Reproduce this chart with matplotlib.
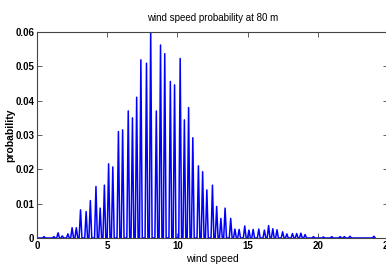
import numpy as np
import matplotlib
matplotlib.use('Agg')
import matplotlib.pyplot as plt

# wind speed bins (m/s), 0.1 wide; most bins are empty
speed = np.round(np.arange(0, 24.15, 0.1), 1)

# bins that hold observations and their probability
peak_speed = [0.5, 1.2, 1.5, 1.8, 2.2, 2.5, 2.8, 3.1, 3.5, 3.8,
              4.2, 4.5, 4.8, 5.1, 5.4, 5.8, 6.1, 6.5, 6.8, 7.1,
              7.4, 7.8, 8.1, 8.5, 8.8, 9.1, 9.5, 9.8, 10.2, 10.5,
              10.8, 11.1, 11.5, 11.8, 12.1, 12.5, 12.8, 13.1, 13.4, 13.8,
              14.1, 14.4, 14.8, 15.1, 15.4, 15.8, 16.2, 16.5, 16.8, 17.1,
              17.5, 17.8, 18.2, 18.5, 18.8, 19.1, 19.7, 20.4, 21.0, 21.6,
              21.9, 22.3, 24.0]
peak_prob = [0.0004, 0.0004, 0.0015, 0.0006, 0.0012, 0.0030, 0.0030, 0.0082, 0.0077, 0.0109,
             0.0150, 0.0087, 0.0154, 0.0216, 0.0207, 0.0310, 0.0315, 0.0370, 0.0350, 0.0410,
             0.0519, 0.0509, 0.0610, 0.0370, 0.0562, 0.0537, 0.0456, 0.0446, 0.0523, 0.0344,
             0.0380, 0.0292, 0.0210, 0.0193, 0.0140, 0.0154, 0.0092, 0.0057, 0.0087, 0.0057,
             0.0026, 0.0025, 0.0035, 0.0023, 0.0025, 0.0026, 0.0023, 0.0036, 0.0027, 0.0024,
             0.0018, 0.0012, 0.0013, 0.0013, 0.0014, 0.0010, 0.0004, 0.0003, 0.0004, 0.0004,
             0.0004, 0.0005, 0.0005]

x_ticks = [0, 5, 10, 15, 20, 25]
y_ticks = [0, 0.01, 0.02, 0.03, 0.04, 0.05, 0.06]
y_tick_labels = ['0', '0.01', '0.02', '0.03', '0.04', '0.05', '0.06']

prob = np.zeros(len(speed))
idx = np.searchsorted(speed, np.round(peak_speed, 1))
prob[idx] = peak_prob

fig = plt.figure(figsize=(3.86, 2.65), dpi=100)
ax = fig.add_axes([0.0959, 0.1019, 0.909, 0.7774])

ax.plot(speed, prob, color='blue', linewidth=1.1)

ax.set_xlim(0, 25)
ax.set_ylim(0, 0.06)
ax.set_xticks(x_ticks)
ax.set_xticklabels([str(t) for t in x_ticks], family='Liberation Sans',
                   fontsize=7, fontweight='bold')
ax.set_yticks(y_ticks)
ax.set_yticklabels(y_tick_labels, family='Liberation Sans', fontsize=7, fontweight='bold')

ax.tick_params(direction='in', length=3.5, width=0.6, color='#444444',
               top=True, right=True, pad=2)
for s in ax.spines.values():
    s.set_color('#444444')
    s.set_linewidth(0.8)

ax.set_title('wind speed probability at 80 m', family='Liberation Sans',
             fontsize=7, pad=8)
ax.set_xlabel('wind speed', family='Liberation Sans', fontsize=7.5)
ax.xaxis.set_label_coords(0.5, -0.078)
ax.set_ylabel('probability', family='Liberation Sans', fontsize=7.5, fontweight='bold')
ax.yaxis.set_label_coords(-0.062, 0.5)

fig.savefig('out.png', dpi=100)
